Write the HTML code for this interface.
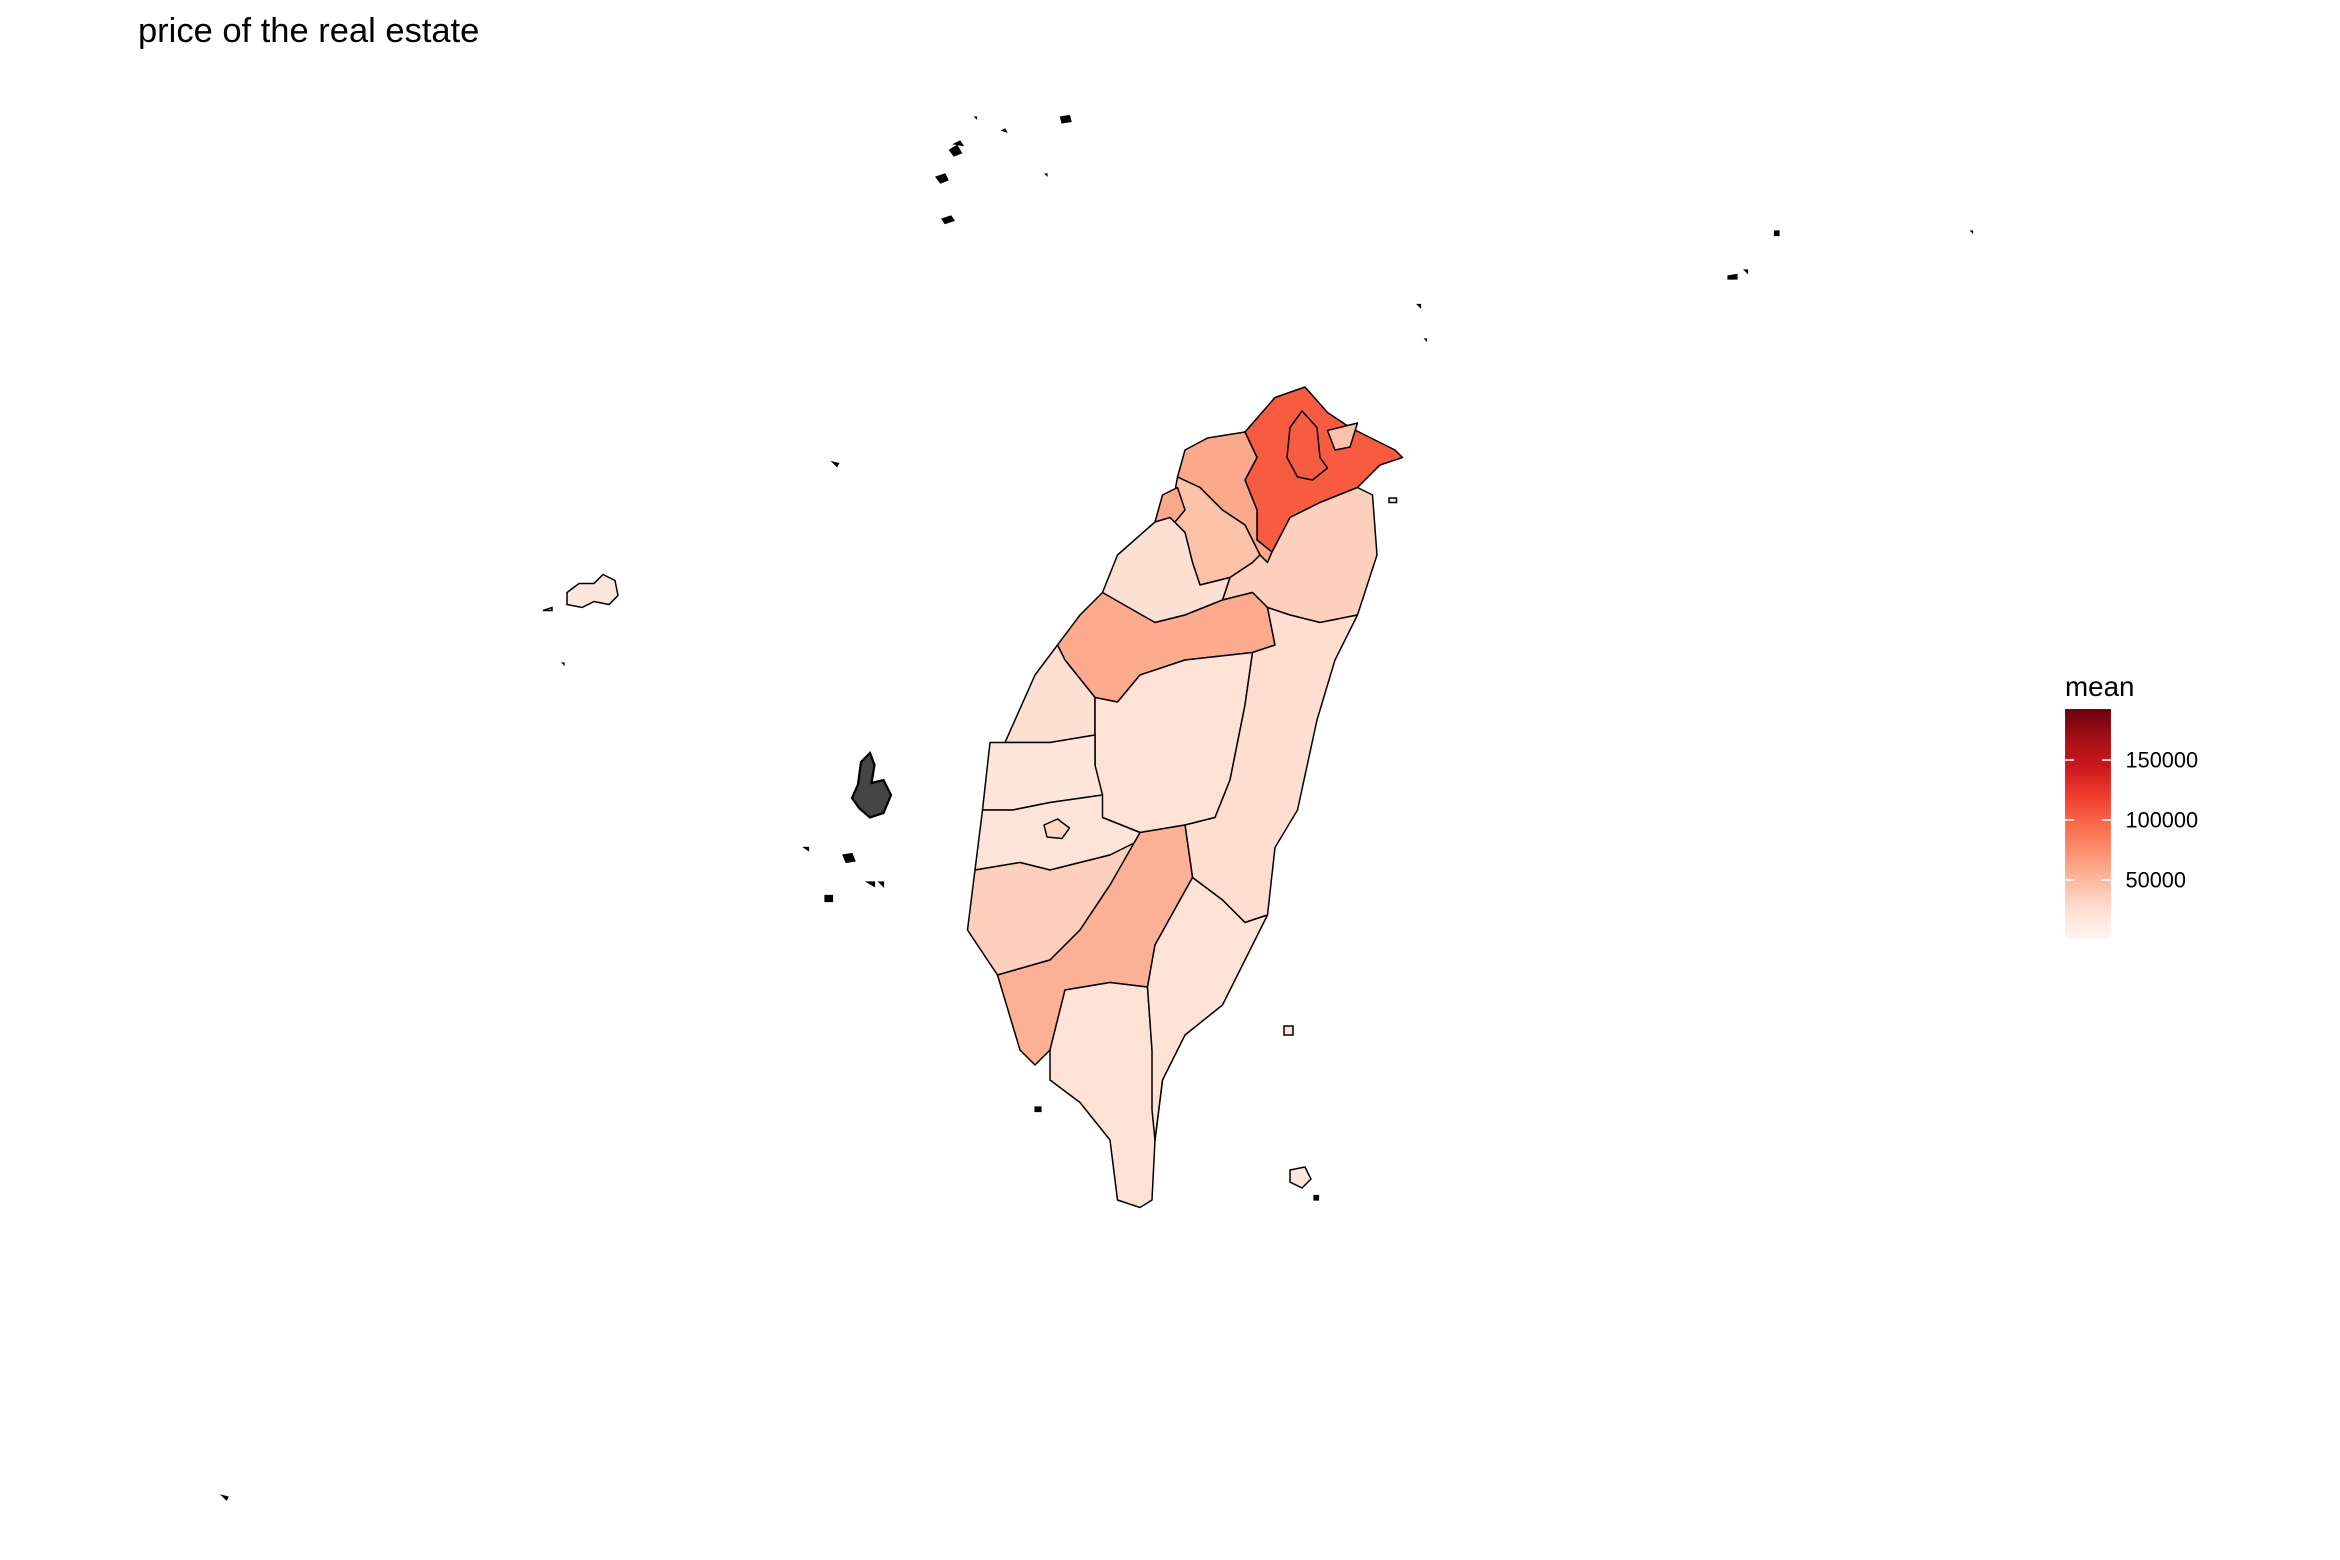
<!DOCTYPE html>
<html><head><meta charset="utf-8"><style>
html,body{margin:0;padding:0;background:#fff}
svg{display:block;font-family:"Liberation Sans",Arial,sans-serif}
</style></head><body>
<svg id="chart" width="2340" height="1560" viewBox="0 0 1560 1040" xmlns="http://www.w3.org/2000/svg">
<defs><linearGradient id="lg" x1="0" y1="1" x2="0" y2="0">
<stop offset="0" stop-color="#fff5f0"/><stop offset="0.125" stop-color="#fee0d2"/><stop offset="0.25" stop-color="#fcbba1"/><stop offset="0.375" stop-color="#fc9272"/><stop offset="0.5" stop-color="#fb6a4a"/><stop offset="0.625" stop-color="#ef3b2c"/><stop offset="0.75" stop-color="#cb181d"/><stop offset="0.875" stop-color="#a50f15"/><stop offset="1" stop-color="#67000d"/></linearGradient></defs>
<text x="92" y="28" font-size="23" fill="#000">price of the real estate</text>
<g id="map"></g>
<g id="islands" fill="#000" stroke="#000" stroke-width="0.8">
<path d="M624,118 l6,-2 l2,4 l-5,2z M633,100 l5,-3 l3,5 l-5,2z M636,96 l4,-2 l2,3z M628,146 l6,-2 l2,3 l-6,2z M707,78 l6,-1 l1,4 l-6,1z M668,87 l2,-1 l1,2z M650,78 l1,0 l0,1z M697,116 l1,0 l0,1z M1183,154 l3,0 l0,3 l-3,0z M1314,154 l1,0 l0,1z M1152,184 l6,-1 l0,3 l-6,0z M1163,180 l2,0 l0,2z M945,203 l2,0 l0,2z M950,226 l1,0 l0,1z M555,308 l4,1 l-1,2z M536,565 l3,0 l0,2z M562,570 l6,-1 l2,5 l-6,1z M550,597 l5,0 l0,4 l-5,0z M578,588 l5,0 l0,3z M586,588 l3,0 l0,3z M148,997 l4,1 l-1,2z M375,442 l1,0 l0,1z M876,797 l3,0 l0,3 l-3,0z M690,738 l4,0 l0,3 l-4,0z"/>
<path fill="#444" stroke-width="1.5" d="M574,508 l6,-6 l3,8 l-2,12 l8,-2 l5,10 l-5,12 l-9,3 l-7,-6 l-5,-7 l4,-9z"/>
</g>
<g fill="#fde6dc" stroke="#000" stroke-width="1">
<path d="M378,395 l8,-6 l10,0 l6,-6 l8,4 l2,10 l-6,6 l-10,-2 l-8,4 l-10,-2z M362,407 l6,-2 l0,2z"/>
<path d="M856,684 l6,0 l0,6 l-6,0z"/>
<path d="M860,780 l10,-2 l4,8 l-6,6 l-8,-4z"/>
<path d="M926,332 l5,0 l0,3 l-5,0z"/>
</g>
<g id="legend"></g>
</svg>
<script>
const regionNames=["new-taipei","taipei","keelung","taoyuan","hsinchu-county","hsinchu-city","yilan","miaoli","taichung","changhua","nantou","hualien","yunlin","chiayi-county","chiayi-city","tainan","kaohsiung","pingtung","taitung"];
const regionMeans=[104000,104000,45000,60000,45000,60000,35000,25000,58000,25000,22000,26000,18000,20000,30000,35000,55000,22000,22000];
const legendTicks=[50000,100000,150000];
const legendTickLabels=["50000","100000","150000"];
const scaleMin=833, scaleMax=192500;
const shapes=[
"830,288 850,265 870,258 885,275 900,285 930,300 935,305 920,310 905,325 880,335 860,345 850,370 838,360 838,340 830,320 838,305",
"860,285 868,274 878,285 880,305 885,312 875,320 865,318 858,305",
"885,287 905,282 900,298 890,300",
"790,300 805,292 830,288 838,305 830,320 838,340 838,360 848,368 845,375 840,370 830,350 815,340 800,325 785,318",
"785,318 800,325 815,340 830,350 840,370 835,375 820,385 800,390 795,375 790,355 780,345",
"775,330 785,325 790,340 780,352 770,348",
"848,368 860,345 880,335 905,325 915,330 918,370 905,410 880,415 860,410 845,405 835,395 815,400 820,385 835,375 840,370 845,375",
"770,348 780,345 790,355 795,375 800,390 820,385 815,400 790,410 770,415 745,405 735,395 745,370",
"720,410 735,395 770,415 790,410 815,400 835,395 845,405 850,430 835,435 790,440 760,450 745,468 730,465 710,440 705,430",
"690,450 705,430 710,440 730,465 730,490 700,495 670,495",
"730,465 745,468 760,450 790,440 835,435 830,470 820,520 810,545 790,550 760,555 735,545 730,510",
"845,405 860,410 880,415 905,410 890,440 878,480 865,540 850,565 845,610 830,615 815,600 795,585 790,550 810,545 820,520 830,470 835,435 850,430",
"660,495 670,495 700,495 730,490 730,510 735,530 700,535 675,540 655,540",
"655,540 675,540 700,535 735,530 735,545 760,555 770,565 740,570 700,580 680,575 650,580",
"696,550 705,546 713,552 708,559 698,558",
"650,580 680,575 700,580 740,570 760,560 740,590 720,620 700,640 665,650 645,620",
"760,555 790,550 795,585 770,630 765,658 740,655 710,660 700,700 690,710 680,700 665,650 700,640 720,620 740,590",
"710,660 740,655 765,658 768,700 775,720 770,760 768,800 760,805 745,800 740,760 720,735 700,720 700,700",
"795,585 815,600 830,615 845,610 830,640 815,670 790,690 775,720 770,760 768,740 768,700 765,658 770,630"
];
const stops=["#fff5f0","#fee0d2","#fcbba1","#fc9272","#fb6a4a","#ef3b2c","#cb181d","#a50f15","#67000d"];
function hex(c){return [1,3,5].map(i=>parseInt(c.substr(i,2),16));}
function colorScale(v){let t=Math.max(0,Math.min(1,(v-scaleMin)/(scaleMax-scaleMin)))*(stops.length-1);
 let i=Math.min(stops.length-2,Math.floor(t)),f=t-i,a=hex(stops[i]),b=hex(stops[i+1]);
 return "rgb("+a.map((x,k)=>Math.round(x+(b[k]-x)*f)).join(",")+")";}
const NS="http://www.w3.org/2000/svg";
const map=document.getElementById("map");
regionNames.forEach((n,i)=>{const p=document.createElementNS(NS,"polygon");
 p.setAttribute("points",shapes[i]);p.setAttribute("fill",colorScale(regionMeans[i]));
 p.setAttribute("stroke","#000");p.setAttribute("stroke-width","1");p.setAttribute("stroke-linejoin","round");
 
 
 map.appendChild(p);});
const lg=document.getElementById("legend");
const bx=1376.7,bw=30.6,by0=472.7,by1=626;
function ly(v){return by1-(v-scaleMin)/(scaleMax-scaleMin)*(by1-by0);}
let t=document.createElementNS(NS,"text");t.setAttribute("x",bx);t.setAttribute("y",464);t.setAttribute("font-size","18.5");t.textContent="mean";


lg.appendChild(t);
let r=document.createElementNS(NS,"rect");r.setAttribute("x",bx);r.setAttribute("y",by0);r.setAttribute("width",bw);r.setAttribute("height",by1-by0);r.setAttribute("fill","url(#lg)");


lg.appendChild(r);
legendTicks.forEach((v,i)=>{const y=ly(v);
 [[bx,bx+6],[bx+bw-6,bx+bw]].forEach(s=>{const l=document.createElementNS(NS,"line");l.setAttribute("x1",s[0]);l.setAttribute("x2",s[1]);l.setAttribute("y1",y);l.setAttribute("y2",y);l.setAttribute("stroke","#fff");l.setAttribute("stroke-width","1");
 
 
 lg.appendChild(l);});
 const tx=document.createElementNS(NS,"text");tx.setAttribute("x",1417);tx.setAttribute("y",y+5);tx.setAttribute("font-size","14.5");tx.textContent=legendTickLabels[i];
 
 
 lg.appendChild(tx);});
</script>
</body></html>
